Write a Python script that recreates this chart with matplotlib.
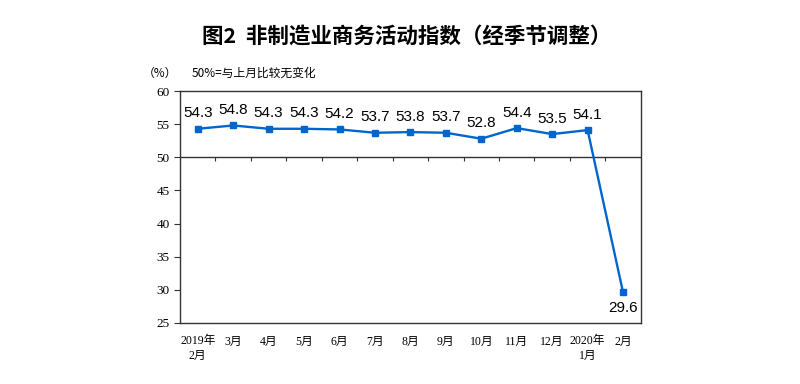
import matplotlib
matplotlib.use('Agg')
import matplotlib.pyplot as plt

plt.rcParams['font.family'] = ['Noto Sans CJK SC', 'DejaVu Sans']

months = ['2019年\n2月', '3月', '4月', '5月', '6月', '7月', '8月', '9月',
          '10月', '11月', '12月', '2020年\n1月', '2月']
pmi = [54.3, 54.8, 54.3, 54.3, 54.2, 53.7, 53.8, 53.7, 52.8, 54.4, 53.5, 54.1, 29.6]

line_color = '#0066CC'
num_font = ['Liberation Sans', 'Noto Sans CJK SC']
tick_font = ['Liberation Serif', 'Noto Sans CJK SC']

fig = plt.figure(figsize=(8, 3.84), dpi=100)
ax = fig.add_axes([0.225, 0.159, 0.576, 0.604])

x = list(range(len(months)))
ax.plot(x, pmi, color=line_color, lw=1.7, marker='s', ms=4, zorder=3)

# 50 line with small ticks at category boundaries
ax.axhline(50, color='#333333', lw=1, zorder=2)
ax.vlines([k - 0.5 for k in range(1, len(months))], 50 - 0.6, 50, color='#333333', lw=0.8)

for i, v in enumerate(pmi):
    if i == len(pmi) - 1:
        ax.annotate(f'{v}', (i, v), xytext=(0, -6), textcoords='offset points',
                    ha='center', va='top', fontsize=11, family=num_font)
    else:
        ax.annotate(f'{v}', (i, v), xytext=(0, 6), textcoords='offset points',
                    ha='center', va='bottom', fontsize=11, family=num_font)

ax.set_xlim(-0.5, len(months) - 0.5)
ax.set_ylim(25, 60)
ax.set_yticks([25, 30, 35, 40, 45, 50, 55, 60])
ax.set_xticks(x)
ax.set_xticklabels(months, fontsize=8.5, family=tick_font, linespacing=1.3)
ax.tick_params(axis='x', length=0, pad=9)
ax.tick_params(axis='y', length=4, width=0.8, labelsize=9.5, color='#333333')
for lab in ax.get_yticklabels():
    lab.set_family(tick_font)
for s in ax.spines.values():
    s.set_color('#333333')
    s.set_linewidth(1)

fig.text(0.508, 0.905, '图2  非制造业商务活动指数（经季节调整）', ha='center', va='center',
         fontsize=15.5, fontweight='bold')
fig.text(0.178, 0.81, '（%）', ha='left', va='center', fontsize=8.5)
fig.text(0.24, 0.81, '50%=与上月比较无变化', ha='left', va='center', fontsize=8.5)

fig.savefig('out.png', dpi=100)
